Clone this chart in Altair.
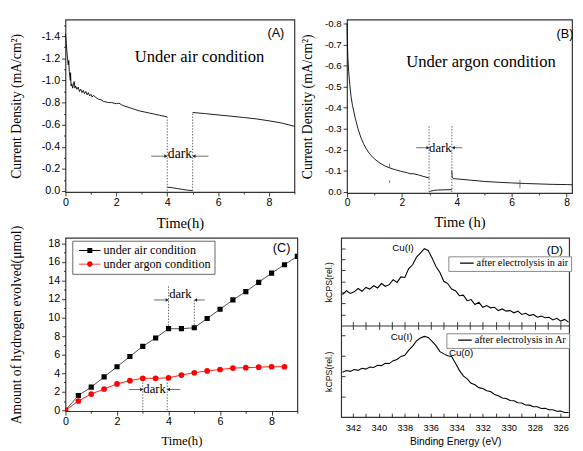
import altair as alt
import pandas as pd

SERIF = "Liberation Serif"
SANS = "Liberation Sans"
GREY = "#444444"

# ---------------- Panel A : current density under air ----------------
A_LIGHT1_T = [0.0, 0.02, 0.05, 0.08, 0.11, 0.13, 0.15, 0.17, 0.19, 0.2, 0.22, 0.25, 0.28, 0.31, 0.34, 0.37,
              0.4, 0.45, 0.5, 0.55, 0.6, 0.65, 0.7, 0.75, 0.8, 0.85, 0.9, 0.95, 1.0, 1.05, 1.1, 1.2, 1.3,
              1.4, 1.5, 1.6, 1.7, 1.8, 1.9, 2.0, 2.1, 2.2, 2.3, 2.5, 2.7, 2.9, 3.1, 3.3, 3.5, 3.7, 3.9, 4.0]
A_LIGHT1_J = [-1.42, -1.36, -1.28, -1.2, -1.14, -1.18, -1.08, -1.04, -1.0, -1.07, -0.95, -0.97, -0.93, -0.96,
              -0.99, -0.93, -0.95, -0.92, -0.94, -0.9, -0.92, -0.89, -0.91, -0.88, -0.9, -0.87, -0.89, -0.86,
              -0.875, -0.85, -0.865, -0.845, -0.83, -0.825, -0.81, -0.805, -0.8, -0.8, -0.795, -0.79, -0.795,
              -0.78, -0.77, -0.755, -0.74, -0.725, -0.715, -0.705, -0.695, -0.685, -0.675, -0.67]
A_DARK_T = [4.0, 4.2, 4.4, 4.6, 4.8, 5.0]
A_DARK_J = [-0.035, -0.03, -0.022, -0.015, -0.008, -0.003]
A_LIGHT2_T = [5.0, 5.5, 6.0, 6.5, 7.0, 7.5, 8.0, 8.5, 9.0]
A_LIGHT2_J = [-0.71, -0.70, -0.688, -0.677, -0.665, -0.652, -0.635, -0.615, -0.585]
A_DOT_T = [4.0, 5.0]
A_DOT_FROM = [0.0, 0.0]
A_DOT_TO = [-0.67, -0.71]
A_ARROW_FROM = [3.37, 5.62]
A_ARROW_TO = [3.95, 5.05]
A_ARROW_J = [-0.315, -0.315]
A_TEXT = ["dark", "Under air condition", "(A)"]
A_TEXT_T = [4.5, 5.27, 8.27]
A_TEXT_J = [-0.335, -1.21, -1.43]
A_XTICKS = [0, 1, 2, 3, 4, 5, 6, 7, 8, 9]
A_YTICKS = [-1.5, -1.4, -1.3, -1.2, -1.1, -1.0, -0.9, -0.8, -0.7, -0.6, -0.5, -0.4, -0.3, -0.2, -0.1, 0.0]

# ---------------- Panel B : current density under argon ----------------
B_LIGHT1_T = [0.0, 0.01, 0.03, 0.06, 0.1, 0.15, 0.2, 0.3, 0.4, 0.5, 0.6, 0.7, 0.8, 0.9, 1.0, 1.2, 1.4, 1.6,
              1.8, 2.0, 2.2, 2.3, 2.4, 2.6, 2.8, 3.0]
B_LIGHT1_J = [-0.8, -0.72, -0.64, -0.57, -0.51, -0.45, -0.41, -0.35, -0.3, -0.26, -0.23, -0.205, -0.185, -0.17,
              -0.157, -0.137, -0.122, -0.112, -0.104, -0.097, -0.091, -0.086, -0.087, -0.081, -0.073, -0.066]
B_DARK_T = [3.0, 3.05, 3.15, 3.3, 3.5, 3.82]
B_DARK_J = [0.0, -0.004, -0.007, -0.009, -0.01, -0.011]
B_LIGHT2_T = [3.82, 3.83, 3.87, 4.0, 4.5, 5.0, 5.5, 6.0, 6.5, 7.0, 7.5, 8.0, 8.2]
B_LIGHT2_J = [-0.1, -0.07, -0.063, -0.062, -0.056, -0.05, -0.046, -0.043, -0.04, -0.038, -0.036, -0.035, -0.034]
B_DOT_T = [2.99, 3.82]
B_DOT_FROM = [0.0, 0.0]
B_DOT_TO = [-0.315, -0.315]
B_BAR_T = [1.55, 1.55, 6.3]
B_BAR_FROM = [-0.135, -0.055, -0.056]
B_BAR_TO = [-0.114, -0.042, -0.017]
B_ARROW_FROM = [2.52, 4.2]
B_ARROW_TO = [2.95, 3.87]
B_ARROW_J = [-0.21, -0.21]
B_TEXT = ["dark", "Under argon condition", "(B)"]
B_TEXT_T = [3.4, 4.88, 7.94]
B_TEXT_J = [-0.21, -0.615, -0.749]
B_XTICKS = [0, 1, 2, 3, 4, 5, 6, 7, 8]
B_YTICKS = [-0.8, -0.7, -0.6, -0.5, -0.4, -0.3, -0.2, -0.1, 0.0]

# ---------------- Panel C : hydrogen evolved ----------------
C_SERIES = ["under air condition", "under argon condition"]
C_AIR_T = [0, 0.5, 1, 1.5, 2, 2.5, 3, 3.5, 4, 4.5, 5, 5.5, 6, 6.5, 7, 7.5, 8, 8.5, 9]
C_AIR_H = [0, 1.6, 2.5, 3.6, 4.7, 5.8, 6.9, 7.8, 8.8, 8.8, 8.9, 9.9, 10.9, 11.9, 12.8, 13.8, 14.8, 15.7, 16.6]
C_AR_T = [0, 0.5, 1, 1.5, 2, 2.5, 3, 3.5, 4, 4.5, 5, 5.5, 6, 6.5, 7, 7.5, 8, 8.5]
C_AR_H = [0, 1.0, 1.75, 2.3, 2.85, 3.2, 3.45, 3.45, 3.5, 3.8, 4.05, 4.25, 4.4, 4.55, 4.6, 4.65, 4.7, 4.7]
C_DOT_T = [4.0, 5.0, 3.0, 3.95]
C_DOT_FROM = [8.8, 8.9, 0.0, 0.0]
C_DOT_TO = [13.45, 12.05, 3.6, 3.6]
C_ARROW_FROM = [3.44, 5.4, 2.46, 4.46]
C_ARROW_TO = [3.95, 5.05, 2.96, 3.99]
C_ARROW_H = [11.9, 11.9, 2.24, 2.24]
C_TEXT = ["dark", "dark", "(C)"]
C_TEXT_T = [4.46, 3.46, 8.39]
C_TEXT_H = [12.5, 2.3, 17.47]
C_XTICKS = [0, 1, 2, 3, 4, 5, 6, 7, 8, 9]
C_YTICKS = list(range(0, 19))

# ---------------- Panel D : XPS ----------------
D_EV = [342.8, 342.5, 342.2, 341.9, 341.6, 341.3, 341.0, 340.7, 340.4, 340.1, 339.8, 339.5, 339.2, 338.9,
        338.6, 338.3, 338.0, 337.7, 337.4, 337.1, 336.8, 336.5, 336.2, 335.9, 335.6, 335.3, 335.0, 334.7,
        334.4, 334.1, 333.8, 333.5, 333.2, 332.9, 332.6, 332.3, 332.0, 331.7, 331.4, 331.1, 330.8, 330.5,
        330.2, 329.9, 329.6, 329.3, 329.0, 328.7, 328.4, 328.1, 327.8, 327.5, 327.2, 326.9, 326.6, 326.3,
        326.0, 325.7, 325.4]
D_AIR = [2.8, 3.15, 2.9, 3.05, 3.35, 3.1, 3.45, 3.3, 3.6, 3.4, 3.8, 3.55, 3.7, 4.15, 3.9, 4.4, 4.35, 5.15,
         5.5, 6.2, 6.55, 6.95, 6.8, 6.1, 5.35, 4.8, 4.0, 3.8, 3.3, 3.15, 2.7, 2.75, 2.25, 2.35, 1.9, 2.1,
         1.65, 1.8, 1.6, 1.65, 1.35, 1.5, 1.3, 1.35, 1.15, 1.3, 1.0, 1.1, 0.9, 1.0, 0.75, 0.85, 0.7, 0.75,
         0.5, 0.65, 0.4, 0.55, 0.3]
D_AR = [2.18, 2.26, 2.22, 2.31, 2.27, 2.37, 2.33, 2.43, 2.41, 2.52, 2.5, 2.61, 2.6, 2.74, 2.8, 2.95, 3.0,
        3.25, 3.45, 3.7, 3.84, 3.92, 3.87, 3.68, 3.47, 3.18, 3.07, 2.98, 2.94, 2.62, 2.27, 2.0, 1.86, 1.64,
        1.57, 1.43, 1.39, 1.28, 1.24, 1.1, 1.04, 0.93, 0.9, 0.81, 0.79, 0.7, 0.68, 0.59, 0.58, 0.5, 0.5,
        0.42, 0.43, 0.36, 0.36, 0.28, 0.29, 0.22, 0.22]
D_AIR_NAME = ["after electrolysis in air"]
D_AR_NAME = ["after electrolysis in Ar"]
D_TOP_TEXT = ["Cu(I)", "(D)"]
D_TOP_TEXT_E = [338.14, 326.45]
D_TOP_TEXT_K = [7.0, 6.86]
D_BOT_TEXT = ["Cu(I)", "Cu(0)"]
D_BOT_TEXT_E = [338.25, 333.67]
D_BOT_TEXT_K = [3.9, 3.11]
D_XTICKS = list(range(326, 343))
D_TOP_YTICKS = [1, 2, 3, 4, 5, 6, 7]
D_BOT_YTICKS = [1, 2, 3, 4]

# ---------------- helpers ----------------
EVEN = "datum.value % 2 === 0"
FIFTH = "abs(datum.value*5 - round(datum.value*5)) < 0.001"
HYPHEN = "replace(format(datum.value, '.1f'), '\u2212', '-')"


def tsize(test, major=4, minor=2):
    return {"condition": {"test": test, "value": major}, "value": minor}


def frame_df(t, a, b):
    return pd.DataFrame({"t": t, "v": a, "v2": b})


def annotations(xe, ye, dots, arrows_from, arrows_to, arrows_v, texts, fonts):
    layers = []
    layers.append(alt.Chart(dots).mark_rule(strokeDash=[1.5, 1.5], color="#555555", strokeWidth=0.9)
                  .encode(x=xe, y=ye, y2="v2:Q"))
    shafts = pd.DataFrame({"t": arrows_from, "t2": arrows_to, "v": arrows_v})
    layers.append(alt.Chart(shafts).mark_rule(color=GREY, strokeWidth=0.8).encode(x=xe, x2="t2:Q", y=ye))
    right = pd.DataFrame({"t": [b for a, b in zip(arrows_from, arrows_to) if b > a],
                          "v": [v for a, b, v in zip(arrows_from, arrows_to, arrows_v) if b > a]})
    left = pd.DataFrame({"t": [b for a, b in zip(arrows_from, arrows_to) if b < a],
                         "v": [v for a, b, v in zip(arrows_from, arrows_to, arrows_v) if b < a]})
    layers.append(alt.Chart(right).mark_point(shape="triangle-right", filled=True, size=14, color="#222222",
                                              opacity=1).encode(x=xe, y=ye))
    layers.append(alt.Chart(left).mark_point(shape="triangle-left", filled=True, size=14, color="#222222",
                                             opacity=1).encode(x=xe, y=ye))
    for df, font, size in zip(texts, fonts[0], fonts[1]):
        layers.append(alt.Chart(df).mark_text(font=font, fontSize=size, color="black", baseline="middle",
                                              align="center").encode(x=xe, y=ye, text="label:N"))
    return layers


# ---------------- Panel A ----------------
a_df = pd.concat([
    pd.DataFrame({"t": A_LIGHT1_T, "v": A_LIGHT1_J, "seg": "light1"}),
    pd.DataFrame({"t": A_DARK_T, "v": A_DARK_J, "seg": "dark"}),
    pd.DataFrame({"t": A_LIGHT2_T, "v": A_LIGHT2_J, "seg": "light2"}),
])
xA = alt.X("t:Q", scale=alt.Scale(domain=[0, 9], nice=False, zero=False),
           axis=alt.Axis(values=A_XTICKS, title="Time(h)", titleFontSize=15, titlePadding=8,
                         titleFontWeight="normal",
                         labelFontSize=11, labelPadding=1, tickSize=tsize(EVEN),
                         labelExpr=f"{EVEN} ? datum.label : ''"))
yA = alt.Y("v:Q", scale=alt.Scale(domain=[-1.55, 0.009], reverse=True, nice=False, zero=False),
           axis=alt.Axis(values=A_YTICKS, title="Current Density (mA/cm\u00b2)", titleFontSize=14,
                         titleFontWeight="normal",
                         titlePadding=18, labelFontSize=11, labelPadding=2, tickSize=tsize(FIFTH),
                         labelExpr=f"{FIFTH} ? {HYPHEN} : ''"))
a_lines = alt.Chart(a_df).mark_line(color="black", strokeWidth=0.9).encode(x=xA, y=yA, detail="seg:N")
a_text_dark = pd.DataFrame({"t": A_TEXT_T[:1], "v": A_TEXT_J[:1], "label": A_TEXT[:1]})
a_text_title = pd.DataFrame({"t": A_TEXT_T[1:2], "v": A_TEXT_J[1:2], "label": A_TEXT[1:2]})
a_text_tag = pd.DataFrame({"t": A_TEXT_T[2:], "v": A_TEXT_J[2:], "label": A_TEXT[2:]})
panel_a = alt.layer(
    a_lines,
    *annotations(xA, yA, frame_df(A_DOT_T, A_DOT_FROM, A_DOT_TO), A_ARROW_FROM, A_ARROW_TO, A_ARROW_J,
                 [a_text_dark, a_text_title, a_text_tag], ([SERIF, SERIF, SANS], [14, 17, 13])),
).properties(width=235, height=177)

# ---------------- Panel B ----------------
b_df = pd.concat([
    pd.DataFrame({"t": B_LIGHT1_T, "v": B_LIGHT1_J, "seg": "light1"}),
    pd.DataFrame({"t": B_DARK_T, "v": B_DARK_J, "seg": "dark"}),
    pd.DataFrame({"t": B_LIGHT2_T, "v": B_LIGHT2_J, "seg": "light2"}),
])
xB = alt.X("t:Q", scale=alt.Scale(domain=[0, 8.2], nice=False, zero=False),
           axis=alt.Axis(values=B_XTICKS, title="Time (h)", titleFontSize=15, titlePadding=7,
                         titleFontWeight="normal",
                         labelFontSize=10.5, labelPadding=1, tickSize=tsize(EVEN),
                         labelExpr=f"{EVEN} ? datum.label : ''"))
yB = alt.Y("v:Q", scale=alt.Scale(domain=[-0.8185, 0.005], reverse=True, nice=False, zero=False),
           axis=alt.Axis(values=B_YTICKS, title="Current Density (mA/cm\u00b2)", titleFontSize=14,
                         titleFontWeight="normal",
                         titlePadding=10, labelFontSize=10, labelPadding=2, tickSize=4, labelExpr=HYPHEN))
b_lines = alt.Chart(b_df).mark_line(color="black", strokeWidth=0.9).encode(x=xB, y=yB, detail="seg:N")
b_bars = alt.Chart(frame_df(B_BAR_T, B_BAR_FROM, B_BAR_TO)).mark_rule(color="#555555", strokeWidth=0.8).encode(
    x=xB, y=yB, y2="v2:Q")
b_text_dark = pd.DataFrame({"t": B_TEXT_T[:1], "v": B_TEXT_J[:1], "label": B_TEXT[:1]})
b_text_title = pd.DataFrame({"t": B_TEXT_T[1:2], "v": B_TEXT_J[1:2], "label": B_TEXT[1:2]})
b_text_tag = pd.DataFrame({"t": B_TEXT_T[2:], "v": B_TEXT_J[2:], "label": B_TEXT[2:]})
panel_b = alt.layer(
    b_lines, b_bars,
    *annotations(xB, yB, frame_df(B_DOT_T, B_DOT_FROM, B_DOT_TO), B_ARROW_FROM, B_ARROW_TO, B_ARROW_J,
                 [b_text_dark, b_text_title, b_text_tag], ([SERIF, SERIF, SANS], [13, 17, 13])),
).properties(width=231, height=178)

# ---------------- Panel C ----------------
xC = alt.X("t:Q", scale=alt.Scale(domain=[0, 9], nice=False, zero=False),
           axis=alt.Axis(values=C_XTICKS, title="Time(h)", titleFontSize=13, titlePadding=8,
                         titleFontWeight="normal",
                         labelFontSize=11, labelPadding=1, tickSize=tsize(EVEN),
                         labelExpr=f"{EVEN} ? datum.label : ''"))
yC = alt.Y("v:Q", scale=alt.Scale(domain=[-0.1, 18.6], nice=False, zero=False),
           axis=alt.Axis(values=C_YTICKS, title="Amount of hydrogen evolved(\u03bcmol)", titleFontSize=14,
                         titleFontWeight="normal",
                         titlePadding=25, labelFontSize=11, labelPadding=2, tickSize=tsize(EVEN),
                         labelExpr=f"{EVEN} ? datum.label : ''"))
c_air = pd.DataFrame({"t": C_AIR_T, "v": C_AIR_H, "series": C_SERIES[0]})
c_ar = pd.DataFrame({"t": C_AR_T, "v": C_AR_H, "series": C_SERIES[1]})
c_air_line = alt.Chart(c_air).mark_line(color="#222222", strokeWidth=0.8, clip=True).encode(x=xC, y=yC)
c_ar_line = alt.Chart(c_ar).mark_line(color="#ff0000", strokeWidth=0.9, clip=True).encode(x=xC, y=yC)
c_air_pts = alt.Chart(c_air).mark_point(shape="square", filled=True, size=28, color="black", opacity=1,
                                        clip=True).encode(x=xC, y=yC)
c_ar_pts = alt.Chart(c_ar).mark_point(shape="circle", filled=True, size=34, color="#ff0000", opacity=1,
                                      clip=True).encode(x=xC, y=yC)
PATH_SQ = "M-1,-0.045H1V0.045H-1Z M-0.23,-0.23H0.23V0.23H-0.23Z"
PATH_CI = "M-1,-0.045H1V0.045H-1Z M-0.26,0A0.26,0.26 0 1,1 0.26,0A0.26,0.26 0 1,1 -0.26,0Z"
c_leg = alt.Legend(orient="none", legendX=7, legendY=3, title=None, symbolSize=484, symbolStrokeWidth=0,
                   symbolOpacity=1, labelFont=SERIF, labelFontSize=12.5, labelColor="black",
                   strokeColor="#666666", fillColor="white", padding=3, symbolOffset=4, labelOffset=3,
                   rowPadding=0, clipHeight=14)
c_legend_layer = alt.Chart(pd.concat([c_air, c_ar])).transform_filter("false").mark_point(
    filled=True, opacity=1).encode(
    x=xC, y=yC,
    color=alt.Color("series:N", scale=alt.Scale(domain=C_SERIES, range=["black", "#ff0000"]), legend=c_leg),
    shape=alt.Shape("series:N", scale=alt.Scale(domain=C_SERIES, range=[PATH_SQ, PATH_CI]), legend=c_leg),
)
c_text_dark = pd.DataFrame({"t": C_TEXT_T[:2], "v": C_TEXT_H[:2], "label": C_TEXT[:2]})
c_text_tag = pd.DataFrame({"t": C_TEXT_T[2:], "v": C_TEXT_H[2:], "label": C_TEXT[2:]})
panel_c = alt.layer(
    c_air_line, c_ar_line,
    *annotations(xC, yC, frame_df(C_DOT_T, C_DOT_FROM, C_DOT_TO), C_ARROW_FROM, C_ARROW_TO, C_ARROW_H,
                 [c_text_dark, c_text_tag], ([SERIF, SANS], [13, 13])),
    c_air_pts, c_ar_pts, c_legend_layer,
).properties(width=238, height=178)

# ---------------- Panel D ----------------
D_W, D_H, D_SPLIT = 234, 184, 90
sDx = alt.Scale(domain=[325.35, 342.9], reverse=True, nice=False, zero=False)
sDtop = alt.Scale(domain=[0, 7.94], range=[D_SPLIT, 0], nice=False, zero=False)
sDbot = alt.Scale(domain=[0, 4.45], range=[D_H, D_SPLIT], nice=False, zero=False)
yaxis_common = dict(orient="left", offset=-4, labels=False, tickSize=4, domain=False, title="kCPS(rel.)",
                    titleFont=SANS, titleFontSize=9, titlePadding=7, titleFontWeight="normal")
d_top = pd.DataFrame({"e": D_EV, "k": D_AIR, "name": D_AIR_NAME[0]})
d_bot = pd.DataFrame({"e": D_EV, "k": D_AR, "name": D_AR_NAME[0]})
leg_common = dict(orient="none", title=None, symbolType="stroke", symbolSize=196, symbolStrokeWidth=1.3,
                  labelFont=SERIF, labelFontSize=10.5, labelColor="black", strokeColor="#888888",
                  fillColor="white", padding=2, symbolOffset=9, labelOffset=2, clipHeight=10)
d_top_line = alt.Chart(d_top).mark_line(strokeWidth=1.1).encode(
    x=alt.X("e:Q", scale=sDx, axis=alt.Axis(orient="top", offset=-D_SPLIT, values=D_XTICKS, labels=False,
                                             tickSize=4, domain=True, domainColor="#333333", domainWidth=1.2,
                                             title=None)),
    y=alt.Y("k:Q", scale=sDtop, axis=alt.Axis(values=D_TOP_YTICKS, **yaxis_common)),
    color=alt.Color("name:N", scale=alt.Scale(domain=D_AIR_NAME, range=["black"]),
                    legend=alt.Legend(legendX=110, legendY=19, **leg_common)),
)
d_bot_line = alt.Chart(d_bot).mark_line(strokeWidth=1.1).encode(
    x=alt.X("e:Q", scale=sDx, axis=alt.Axis(orient="bottom", offset=-4, values=D_XTICKS, tickSize=4,
                                             labelPadding=6, labelFontSize=9.5, domain=False,
                                             labelExpr=f"{EVEN} ? format(datum.value, 'd') : ''",
                                             title="Binding Energy (eV)", titleFont=SANS,
                                             titleFontWeight="normal",
                                             titleFontSize=10.5, titlePadding=5)),
    y=alt.Y("k:Q", scale=sDbot, axis=alt.Axis(values=D_BOT_YTICKS, **yaxis_common)),
    color=alt.Color("name:N", scale=alt.Scale(domain=D_AR_NAME, range=["black"]),
                    legend=alt.Legend(legendX=108, legendY=98, **leg_common)),
)
d_top_txt = alt.Chart(pd.DataFrame({"e": D_TOP_TEXT_E, "k": D_TOP_TEXT_K, "label": D_TOP_TEXT})).mark_text(
    font=SANS, fontSize=10, color="black").encode(
    x=alt.X("e:Q", scale=sDx, axis=alt.Axis(orient="top", offset=-(D_SPLIT + 4), values=D_XTICKS,
                                             labels=False, tickSize=4, domain=False, title=None)),
    y=alt.Y("k:Q", scale=sDtop, axis=None),
    text="label:N",
    size=alt.Size("label:N", scale=alt.Scale(domain=D_TOP_TEXT, range=[10, 12]), legend=None),
)
d_bot_txt = alt.Chart(pd.DataFrame({"e": D_BOT_TEXT_E, "k": D_BOT_TEXT_K, "label": D_BOT_TEXT})).mark_text(
    font=SANS, fontSize=10, color="black").encode(
    x=alt.X("e:Q", scale=sDx, axis=None),
    y=alt.Y("k:Q", scale=sDbot, axis=None),
    text="label:N",
)
panel_d = alt.layer(d_top_line, d_bot_line, d_top_txt, d_bot_txt).resolve_scale(
    x="independent", y="independent", color="independent", size="independent"
).properties(width=D_W, height=D_H)

row1 = alt.hconcat(panel_a, panel_b, spacing=54, bounds="flush")
row2 = alt.hconcat(panel_c, panel_d, spacing=45, bounds="flush").resolve_scale(
    color="independent", shape="independent", size="independent")
chart = alt.vconcat(row1, row2, spacing=-7).resolve_scale(
    color="independent", shape="independent", size="independent"
).properties(
    padding={"left": 1, "top": 4, "right": 0, "bottom": 0}, background="white"
).configure_view(stroke="#333333", strokeWidth=1.2).configure_axis(
    grid=False, domain=False, ticks=True, tickColor="#222222", tickWidth=0.9, labelColor="black",
    titleColor="black", labelFont=SANS, titleFont=SERIF, titleFontWeight="normal", labelFlush=False,
    labelOverlap=False, labelBound=False
)

chart.save("out.html", embed_options={"renderer": "svg", "actions": False})
